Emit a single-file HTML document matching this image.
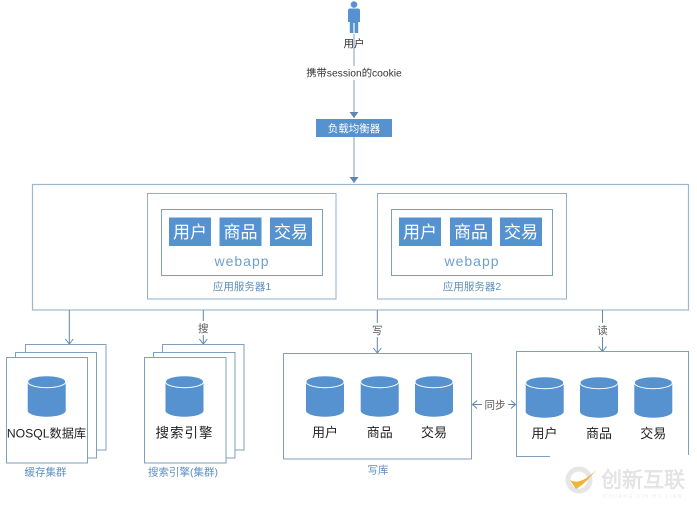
<!DOCTYPE html>
<html>
<head>
<meta charset="utf-8">
<style>
  html,body{margin:0;padding:0;background:#fff;}
  svg{display:block;}
  text{font-family:"Liberation Sans","Noto Sans CJK SC",sans-serif;}
</style>
</head>
<body>
<svg width="697" height="510" viewBox="0 0 697 510" xmlns="http://www.w3.org/2000/svg">
  <defs>
    <marker id="ah" markerWidth="10" markerHeight="10" refX="8" refY="5" orient="auto" markerUnits="userSpaceOnUse">
      <path d="M3,1 L8,5 L3,9" fill="none" stroke="#5f86ad" stroke-width="1"/>
    </marker>
    <marker id="ahf" markerWidth="10" markerHeight="12" refX="8" refY="6" orient="auto" markerUnits="userSpaceOnUse">
      <path d="M2,1.5 L8,6 L2,10.5 Z" fill="#5f86ad"/>
    </marker>
    <g id="cyl">
      <path d="M0,6 L0,35 A19,6 0 0 0 38,35 L38,6 Z" fill="#5592cf"/>
      <ellipse cx="19" cy="6" rx="19" ry="6" fill="#5592cf" stroke="#ffffff" stroke-width="1"/>
    </g>
  </defs>

  <!-- person -->
  <circle cx="354" cy="4.6" r="3.3" fill="#5592cf"/>
  <path d="M348,10.5 Q348,8.5 350,8.5 L358,8.5 Q360,8.5 360,10.5 L360,22 L358.2,22 L358.2,33 L354.6,33 L354.6,23 L353.4,23 L353.4,33 L349.8,33 L349.8,22 L348,22 Z" fill="#5592cf"/>
  <text x="354" y="47" font-size="10.5" fill="#333" text-anchor="middle">用户</text>

  <!-- top connector -->
  <line x1="354" y1="34" x2="354" y2="118" stroke="#7e9fc0" stroke-width="1" marker-end="url(#ahf)"/>
  <rect x="306" y="66" width="96" height="14" fill="#fff"/>
  <text x="354" y="76.5" font-size="10.3" fill="#333" text-anchor="middle">携带session的cookie</text>

  <!-- LB -->
  <rect x="316" y="119" width="76" height="18" fill="#5592cf"/>
  <text x="354" y="132" font-size="10.5" fill="#fff" text-anchor="middle">负载均衡器</text>
  <line x1="354" y1="137" x2="354" y2="183" stroke="#7e9fc0" stroke-width="1" marker-end="url(#ahf)"/>

  <!-- outer box -->
  <rect x="32.5" y="184.5" width="656" height="125.5" fill="#fff" stroke="#9cb8cf" stroke-width="1.2"/>

  <!-- server 1 -->
  <rect x="147.5" y="193.5" width="188.5" height="105.5" fill="#fff" stroke="#8fb0cc" stroke-width="1"/>
  <rect x="161.5" y="209.5" width="161" height="66" fill="#fff" stroke="#7e9fc0" stroke-width="1"/>
  <rect x="169" y="217.5" width="42" height="28.5" fill="#5592cf"/>
  <rect x="219.5" y="217.5" width="42" height="28.5" fill="#5592cf"/>
  <rect x="270" y="217.5" width="42" height="28.5" fill="#5592cf"/>
  <text x="190" y="238" font-size="17" fill="#fff" text-anchor="middle">用户</text>
  <text x="240.5" y="238" font-size="17" fill="#fff" text-anchor="middle">商品</text>
  <text x="291" y="238" font-size="17" fill="#fff" text-anchor="middle">交易</text>
  <text x="242" y="266" font-size="14" fill="#6e9fcf" text-anchor="middle" letter-spacing="1">webapp</text>
  <text x="242" y="290" font-size="10.5" fill="#5d8fc0" text-anchor="middle">应用服务器1</text>

  <!-- server 2 -->
  <rect x="377.5" y="193.5" width="189" height="105.5" fill="#fff" stroke="#8fb0cc" stroke-width="1"/>
  <rect x="391.5" y="209.5" width="161" height="66" fill="#fff" stroke="#7e9fc0" stroke-width="1"/>
  <rect x="399" y="217.5" width="42" height="28.5" fill="#5592cf"/>
  <rect x="450" y="217.5" width="42" height="28.5" fill="#5592cf"/>
  <rect x="500" y="217.5" width="42" height="28.5" fill="#5592cf"/>
  <text x="420" y="238" font-size="17" fill="#fff" text-anchor="middle">用户</text>
  <text x="471" y="238" font-size="17" fill="#fff" text-anchor="middle">商品</text>
  <text x="521" y="238" font-size="17" fill="#fff" text-anchor="middle">交易</text>
  <text x="472" y="266" font-size="14" fill="#6e9fcf" text-anchor="middle" letter-spacing="1">webapp</text>
  <text x="472" y="290" font-size="10.5" fill="#5d8fc0" text-anchor="middle">应用服务器2</text>

  <!-- down connectors -->
  <line x1="69.3" y1="310" x2="69.3" y2="344" stroke="#5f86ad" stroke-width="1" marker-end="url(#ah)"/>
  <line x1="203.3" y1="310" x2="203.3" y2="344" stroke="#5f86ad" stroke-width="1" marker-end="url(#ah)"/>
  <rect x="196" y="321" width="15" height="14" fill="#fff"/>
  <text x="203.3" y="332" font-size="10.5" fill="#555" text-anchor="middle">搜</text>
  <line x1="377.3" y1="310" x2="377.3" y2="353" stroke="#5f86ad" stroke-width="1" marker-end="url(#ah)"/>
  <rect x="370" y="323" width="15" height="14" fill="#fff"/>
  <text x="377.3" y="334" font-size="10.5" fill="#555" text-anchor="middle">写</text>
  <line x1="602.5" y1="310" x2="602.5" y2="351.5" stroke="#5f86ad" stroke-width="1" marker-end="url(#ah)"/>
  <rect x="595" y="323" width="15" height="14" fill="#fff"/>
  <text x="602.5" y="334" font-size="10.5" fill="#555" text-anchor="middle">读</text>

  <!-- cache cluster cards -->
  <rect x="25.5" y="344.5" width="80.5" height="105.5" fill="#fff" stroke="#7e9fc0" stroke-width="1"/>
  <rect x="15.5" y="352.5" width="81" height="105.5" fill="#fff" stroke="#7e9fc0" stroke-width="1"/>
  <rect x="6.5" y="357.5" width="81" height="105.5" fill="#fff" stroke="#7e9fc0" stroke-width="1"/>
  <use href="#cyl" x="27.7" y="375.7"/>
  <text x="46.5" y="437.5" font-size="12.2" fill="#222" text-anchor="middle">NOSQL数据库</text>
  <text x="45.5" y="475.5" font-size="10.5" fill="#5d8fc0" text-anchor="middle">缓存集群</text>

  <!-- search cluster cards -->
  <rect x="162.5" y="344.5" width="81.5" height="105.5" fill="#fff" stroke="#7e9fc0" stroke-width="1"/>
  <rect x="153.5" y="352.5" width="81.5" height="105.5" fill="#fff" stroke="#7e9fc0" stroke-width="1"/>
  <rect x="144.5" y="357.5" width="81.5" height="105.5" fill="#fff" stroke="#7e9fc0" stroke-width="1"/>
  <use href="#cyl" x="165.5" y="375.7"/>
  <text x="184.5" y="437.5" font-size="13.5" fill="#222" text-anchor="middle" letter-spacing="1">搜索引擎</text>
  <text x="183" y="475.5" font-size="10.5" fill="#5d8fc0" text-anchor="middle">搜索引擎(集群)</text>

  <!-- write db -->
  <rect x="283.5" y="353.5" width="188" height="105.5" fill="#fff" stroke="#7e9fc0" stroke-width="1"/>
  <use href="#cyl" x="306" y="375.7"/>
  <use href="#cyl" x="360.7" y="375.7"/>
  <use href="#cyl" x="415" y="375.7"/>
  <text x="325" y="437" font-size="13" fill="#222" text-anchor="middle">用户</text>
  <text x="379.7" y="437" font-size="13" fill="#222" text-anchor="middle">商品</text>
  <text x="434" y="437" font-size="13" fill="#222" text-anchor="middle">交易</text>
  <text x="378" y="473.5" font-size="10.5" fill="#5d8fc0" text-anchor="middle">写库</text>

  <!-- sync arrow -->
  <line x1="472" y1="404.5" x2="516" y2="404.5" stroke="#5f86ad" stroke-width="1"/>
  <path d="M477,400.5 L472.5,404.5 L477,408.5" fill="none" stroke="#5f86ad" stroke-width="1"/>
  <path d="M511,400.5 L515.5,404.5 L511,408.5" fill="none" stroke="#5f86ad" stroke-width="1"/>
  <rect x="482" y="398" width="26" height="13" fill="#fff"/>
  <text x="495" y="408.5" font-size="10.5" fill="#555" text-anchor="middle">同步</text>

  <!-- read db -->
  <rect x="516.5" y="351.5" width="172" height="105" fill="#fff" stroke="#7e9fc0" stroke-width="1"/>
  <use href="#cyl" x="525.7" y="376.7"/>
  <use href="#cyl" x="580" y="376.7"/>
  <use href="#cyl" x="634.3" y="376.7"/>
  <text x="544.5" y="438" font-size="13" fill="#222" text-anchor="middle">用户</text>
  <text x="599" y="438" font-size="13" fill="#222" text-anchor="middle">商品</text>
  <text x="653.3" y="438" font-size="13" fill="#222" text-anchor="middle">交易</text>

  <!-- watermark -->
  <rect x="550" y="455" width="147" height="55" fill="#fff"/>
  <circle cx="579" cy="480" r="11" fill="none" stroke="#e6e6e6" stroke-width="5"/>
  <path d="M570,480 Q580,486 596,470 Q585,484 576,489 Z" fill="#f0b43c"/>
  <text x="643" y="487" font-size="21" fill="#e8e8e8" text-anchor="middle" stroke="#d8d8d8" stroke-width="0.4">创新互联</text>
  <text x="643" y="498" font-size="5" fill="#ececec" text-anchor="middle" letter-spacing="1.5">CHUANG XIN HU LIAN</text>
</svg>
</body>
</html>
